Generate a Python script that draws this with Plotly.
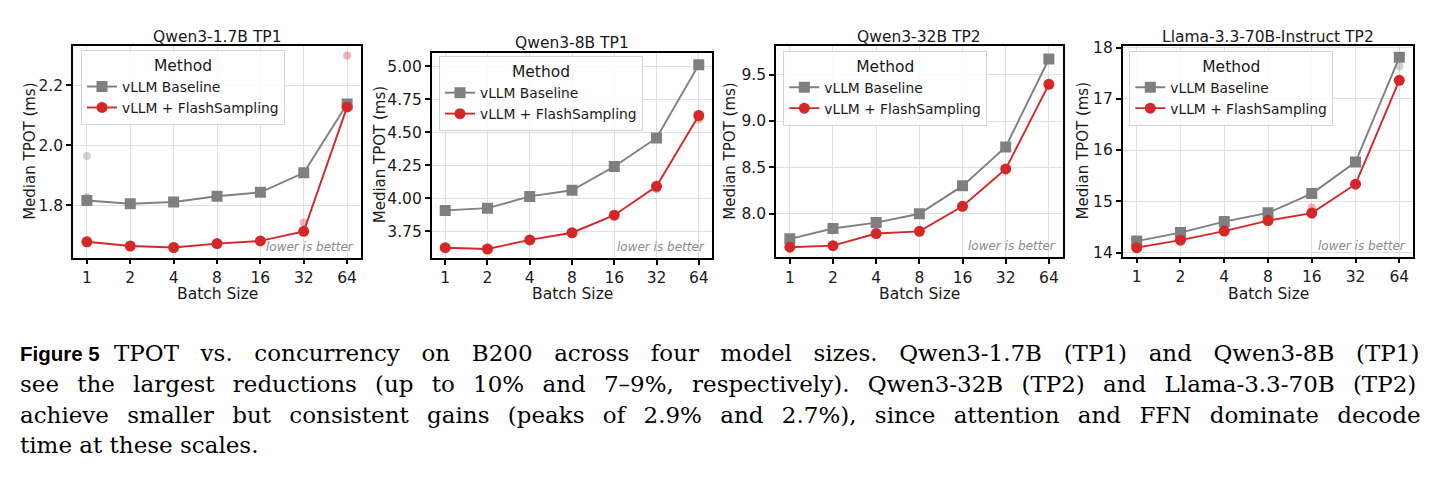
import plotly.graph_objects as go

# ---------------- data ----------------
batch_sizes = ["1", "2", "4", "8", "16", "32", "64"]
panel_titles = ["Qwen3-1.7B TP1", "Qwen3-8B TP1", "Qwen3-32B TP2", "Llama-3.3-70B-Instruct TP2"]
series_names = ["vLLM Baseline", "vLLM + FlashSampling"]

baseline_qwen3_1_7b = [1.816, 1.805, 1.811, 1.830, 1.843, 1.908, 2.138]
flash_qwen3_1_7b = [1.678, 1.664, 1.659, 1.672, 1.681, 1.713, 2.128]
baseline_qwen3_8b = [3.909, 3.926, 4.015, 4.061, 4.241, 4.457, 5.010]
flash_qwen3_8b = [3.627, 3.617, 3.686, 3.740, 3.873, 4.091, 4.627]
baseline_qwen3_32b = [7.730, 7.842, 7.905, 8.000, 8.301, 8.721, 9.668]
flash_qwen3_32b = [7.640, 7.657, 7.787, 7.811, 8.081, 8.483, 9.395]
baseline_llama_70b = [14.223, 14.389, 14.604, 14.775, 15.150, 15.766, 17.810]
flash_llama_70b = [14.095, 14.242, 14.419, 14.623, 14.770, 15.333, 17.360]

# individual runs that deviate from the median (faint dots)
runs_baseline_1_7b_x = ["1", "64"]
runs_baseline_1_7b_y = [1.964, 2.140]
runs_flash_1_7b_x = ["1", "32", "64"]
runs_flash_1_7b_y = [1.827, 1.742, 2.299]
runs_baseline_8b_x = []
runs_baseline_8b_y = []
runs_flash_8b_x = ["32", "64"]
runs_flash_8b_y = [4.070, 4.596]
runs_baseline_32b_x = []
runs_baseline_32b_y = []
runs_flash_32b_x = []
runs_flash_32b_y = []
runs_baseline_70b_x = ["64"]
runs_baseline_70b_y = [17.63]
runs_flash_70b_x = ["16"]
runs_flash_70b_y = [14.88]

y_ranges = [[1.625, 2.331], [3.549, 5.103], [7.530, 9.808], [13.918, 18.03]]
y_ticks = [[1.8, 2.0, 2.2], [3.75, 4.00, 4.25, 4.50, 4.75, 5.00],
           [8.0, 8.5, 9.0, 9.5], [14, 15, 16, 17, 18]]
y_tickformats = [".1f", ".2f", ".1f", "d"]

caption_label = "Figure 5"
caption_lines = [
    "TPOT vs. concurrency on B200 across four model sizes. Qwen3-1.7B (TP1) and Qwen3-8B (TP1)",
    "see the largest reductions (up to 10% and 7–9%, respectively). Qwen3-32B (TP2) and Llama-3.3-70B (TP2)",
    "achieve smaller but consistent gains (peaks of 2.9% and 2.7%), since attention and FFN dominate decode",
    "time at these scales.",
]

# ---------------- layout geometry (pixels) ----------------
W, H = 1439, 490
panel_px = [  # left, right, top, bottom
    (73, 361, 40, 257),
    (431.7, 712.3, 46.7, 257.3),
    (776, 1062.7, 40, 256.7),
    (1122.7, 1413.3, 40, 256),
]
legend_px = [(81, 44), (439, 50.3), (783.3, 44.7), (1129.3, 44.7)]
ytitle_x_px = [30, 380, 730, 1083]
title_y_px = [31, 37, 31, 31]
caption_y_px = [355, 386.5, 418, 449.5]
caption_x_px = [112, 18, 18, 18]
caption_word_spacing = [14.3, 10.9, 11.0, 0]

GREY = "#7f7f7f"
RED = "#d62728"
TXT = "#1a1a1a"

medians = [
    (baseline_qwen3_1_7b, flash_qwen3_1_7b),
    (baseline_qwen3_8b, flash_qwen3_8b),
    (baseline_qwen3_32b, flash_qwen3_32b),
    (baseline_llama_70b, flash_llama_70b),
]
runs = [
    ((runs_baseline_1_7b_x, runs_baseline_1_7b_y), (runs_flash_1_7b_x, runs_flash_1_7b_y)),
    ((runs_baseline_8b_x, runs_baseline_8b_y), (runs_flash_8b_x, runs_flash_8b_y)),
    ((runs_baseline_32b_x, runs_baseline_32b_y), (runs_flash_32b_x, runs_flash_32b_y)),
    ((runs_baseline_70b_x, runs_baseline_70b_y), (runs_flash_70b_x, runs_flash_70b_y)),
]

fig = go.Figure()
annotations = []
layout_upd = {}

for i in range(4):
    sfx = "" if i == 0 else str(i + 1)
    xa, ya = "x" + sfx, "y" + sfx
    leg = "legend" + sfx
    l, r, t, b = panel_px[i]

    for (rx, ry), col in zip(runs[i], [GREY, RED]):
        if rx:
            fig.add_trace(go.Scatter(
                x=rx, y=ry, mode="markers", xaxis=xa, yaxis=ya,
                marker=dict(symbol="circle", size=8, color=col, opacity=0.35),
                showlegend=False, hoverinfo="skip"))

    base, flash = medians[i]
    fig.add_trace(go.Scatter(
        x=batch_sizes, y=base, mode="lines+markers", name=series_names[0],
        xaxis=xa, yaxis=ya, legend=leg,
        line=dict(color=GREY, width=1.9),
        marker=dict(symbol="square", size=11, color=GREY)))
    fig.add_trace(go.Scatter(
        x=batch_sizes, y=flash, mode="lines+markers", name=series_names[1],
        xaxis=xa, yaxis=ya, legend=leg,
        line=dict(color=RED, width=1.9),
        marker=dict(symbol="circle", size=11, color=RED)))

    common = dict(
        showline=True, linecolor="black", linewidth=1.5, mirror=True,
        ticks="outside", ticklen=5, tickwidth=1.5, tickcolor="black",
        tickfont=dict(size=15.5, color=TXT),
        showgrid=True, gridcolor="#e0e0e0", gridwidth=1, zeroline=False,
    )
    layout_upd["xaxis" + sfx] = dict(
        common, domain=[l / W, r / W], anchor=ya, type="category",
        categoryorder="array", categoryarray=batch_sizes, range=[-0.32, 6.32])
    layout_upd["yaxis" + sfx] = dict(
        common, domain=[(H - b) / H, (H - t) / H], anchor=xa,
        range=y_ranges[i], tickvals=y_ticks[i], tickformat=y_tickformats[i])

    lx, ly = legend_px[i]
    layout_upd[leg] = dict(
        x=lx / W, y=(H - ly) / H, xanchor="left", yanchor="top",
        xref="paper", yref="paper",
        bgcolor="rgba(255,255,255,0.85)", bordercolor="#d4d4d4", borderwidth=1,
        font=dict(size=13.8, color=TXT),
        title=dict(text="Method", side="top center", font=dict(size=15.5, color=TXT)),
        tracegroupgap=0, itemwidth=30)

    annotations.append(dict(
        text=panel_titles[i], x=(l + r) / 2 / W, y=(H - title_y_px[i]) / H,
        xref="paper", yref="paper", xanchor="center", yanchor="middle",
        showarrow=False, font=dict(size=15.5, color=TXT)))
    annotations.append(dict(
        text="Batch Size", x=(l + r) / 2 / W, y=(H - 294) / H,
        xref="paper", yref="paper", xanchor="center", yanchor="middle",
        showarrow=False, font=dict(size=15.5, color=TXT)))
    annotations.append(dict(
        text="Median TPOT (ms)", x=ytitle_x_px[i] / W, y=(H - (t + b) / 2) / H,
        xref="paper", yref="paper", xanchor="center", yanchor="middle",
        textangle=-90, showarrow=False, font=dict(size=15, color=TXT)))
    annotations.append(dict(
        text="<i>lower is better</i>", x=1, y=0, xref=xa + " domain", yref=ya + " domain",
        xanchor="right", yanchor="bottom", xshift=-5, yshift=2,
        showarrow=False, font=dict(size=12, color="#8a8a8a")))

# caption
annotations.append(dict(
    text="<b>" + caption_label + "</b>", x=18 / W, y=(H - caption_y_px[0]) / H,
    xref="paper", yref="paper", xanchor="left", yanchor="middle",
    showarrow=False, font=dict(size=20.5, family="Liberation Sans", color="black")))
for k, line in enumerate(caption_lines):
    ws = caption_word_spacing[k]
    txt = line if ws == 0 else '<span style="word-spacing:%.1fpx">%s</span>' % (ws, line)
    annotations.append(dict(
        text=txt, x=caption_x_px[k] / W, y=(H - caption_y_px[k]) / H,
        xref="paper", yref="paper", xanchor="left", yanchor="middle",
        showarrow=False, font=dict(size=23, family="DejaVu Serif", color="black")))

fig.update_layout(
    width=W, height=H, margin=dict(l=0, r=0, t=0, b=0),
    paper_bgcolor="white", plot_bgcolor="white",
    font=dict(family="DejaVu Sans", color=TXT),
    annotations=annotations, **layout_upd)

fig.write_html("out.html")
